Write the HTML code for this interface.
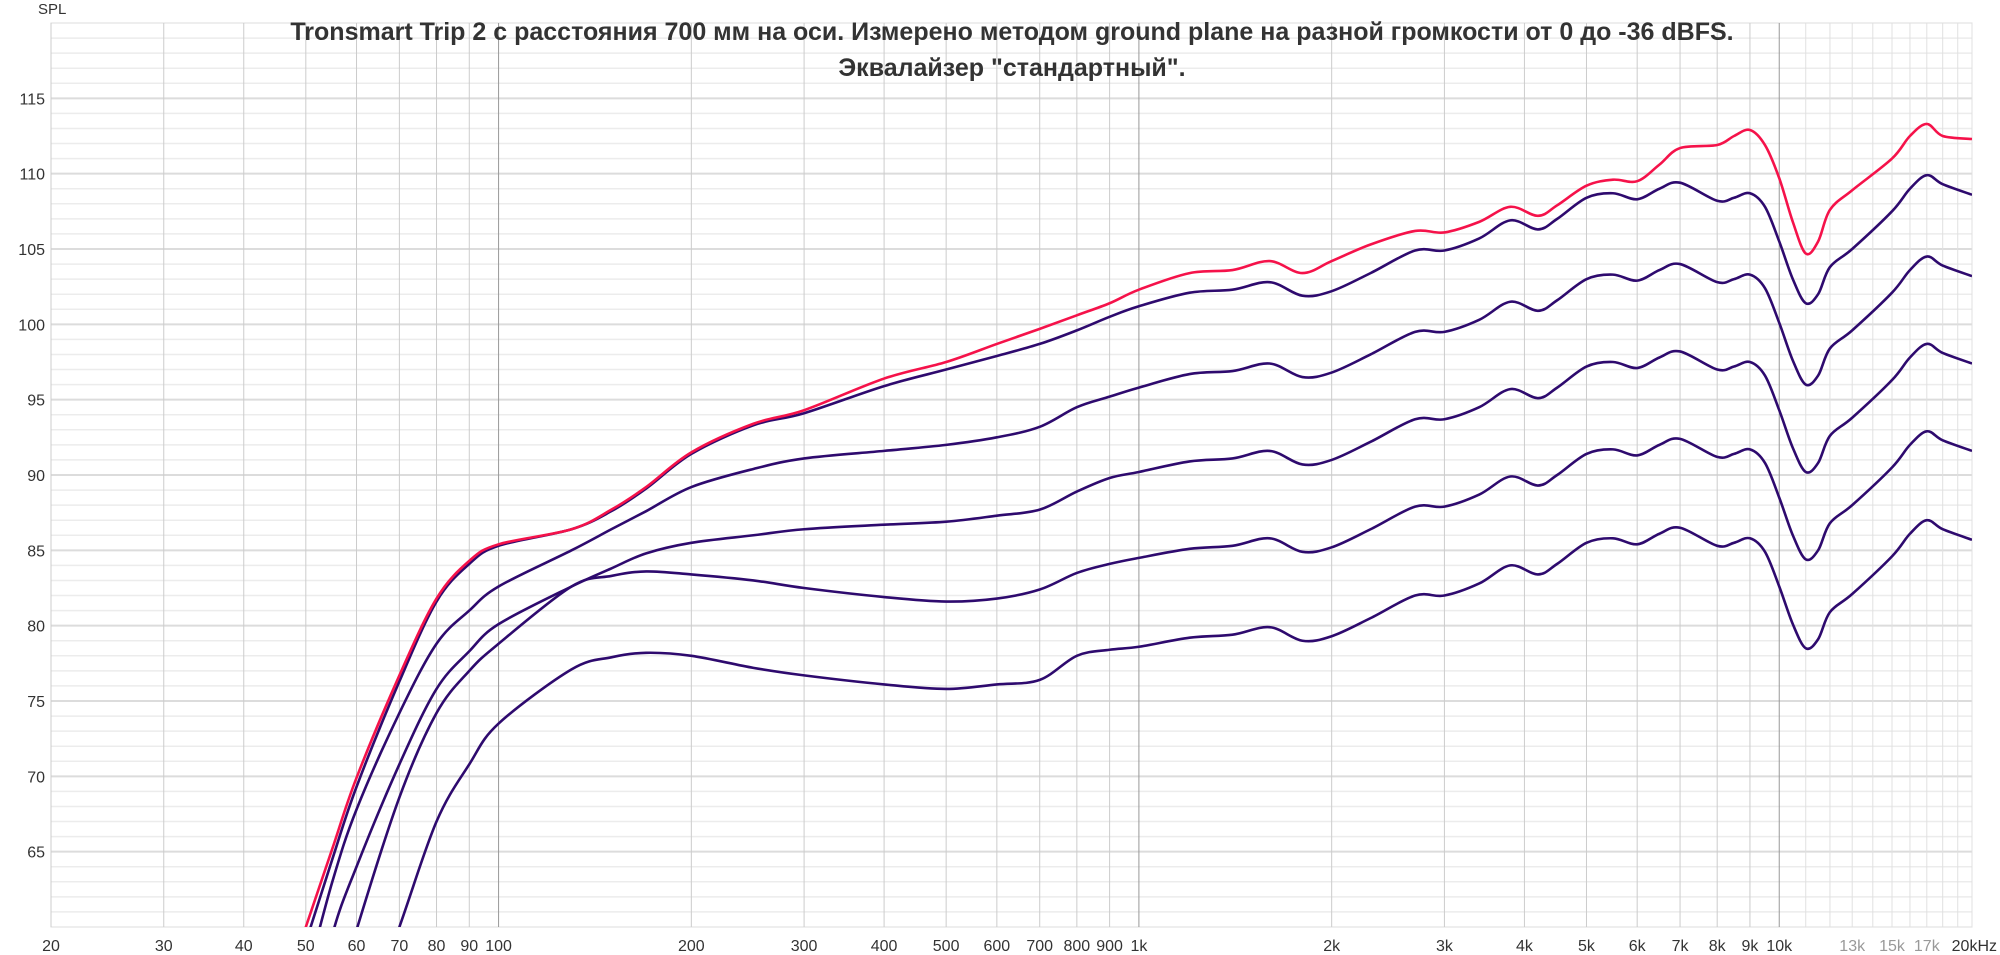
<!DOCTYPE html>
<html><head><meta charset="utf-8"><style>
html,body{margin:0;padding:0;background:#fff;overflow:hidden;width:2000px;height:955px;}
svg{display:block;font-family:"Liberation Sans","Noto Sans CJK SC",sans-serif;}
</style></head><body>
<svg id="chart" width="2000" height="955" viewBox="0 0 2000 955" xmlns="http://www.w3.org/2000/svg">
<g id="grid"></g>
<g id="curves"></g>
<g id="labels"></g>
<text x="38" y="14" font-size="15" fill="#333">SPL</text>
<text x="1012" y="40" font-size="25" font-weight="bold" fill="#333" text-anchor="middle">Tronsmart Trip 2 с расстояния 700 мм на оси. Измерено методом ground plane на разной громкости от 0 до -36 dBFS.</text>
<text x="1012" y="76" font-size="25" font-weight="bold" fill="#333" text-anchor="middle">Эквалайзер "стандартный".</text>
</svg>
<script>
const freqs=[45,50,55,60,70,80,90,100,130,150,170,200,250,300,400,500,600,700,800,900,1000,1200,1400,1600,1800,2000,2300,2700,3000,3400,3800,4200,4500,5000,5500,6000,6500,7000,8000,8500,9000,9500,10000,10500,11000,11500,12000,13000,15000,16000,17000,18000,20000];
const spl0=[54,60,65.2,69.9,76.7,81.8,84.3,85.4,86.4,87.7,89.2,91.5,93.4,94.3,96.4,97.5,98.7,99.7,100.6,101.4,102.3,103.4,103.6,104.2,103.4,104.2,105.3,106.2,106.1,106.8,107.8,107.2,107.9,109.2,109.6,109.5,110.6,111.7,111.9,112.5,112.9,111.9,109.7,106.8,104.7,105.5,107.6,108.9,111,112.5,113.3,112.5,112.3];
const spl6=[53,59,64.5,69.3,76.3,81.6,84.1,85.3,86.4,87.6,89.1,91.4,93.3,94.1,95.9,97,97.9,98.7,99.6,100.5,101.2,102.1,102.3,102.8,101.9,102.2,103.4,104.9,104.9,105.7,106.9,106.3,107,108.4,108.7,108.3,109,109.4,108.2,108.4,108.7,107.8,105.5,103,101.4,102,103.8,105,107.5,109,109.9,109.3,108.6];
const spl12=[50,56.5,63,67.8,74.2,78.8,81,82.6,85,86.4,87.6,89.2,90.4,91.1,91.6,92,92.5,93.2,94.5,95.2,95.8,96.7,96.9,97.4,96.5,96.8,98,99.5,99.5,100.3,101.5,100.9,101.6,103,103.3,102.9,103.6,104,102.8,103,103.3,102.4,100.1,97.6,96,96.6,98.4,99.6,102.1,103.6,104.5,103.9,103.2];
const spl18=[45,52,59.5,64,70.8,75.8,78.3,80.1,82.6,83.8,84.8,85.5,86,86.4,86.7,86.9,87.3,87.7,88.9,89.8,90.2,90.9,91.1,91.6,90.7,91,92.2,93.7,93.7,94.5,95.7,95.1,95.8,97.2,97.5,97.1,97.8,98.2,97,97.2,97.5,96.6,94.3,91.8,90.2,90.8,92.6,93.8,96.3,97.8,98.7,98.1,97.4];
const spl24=[40,47,54,59.8,68.6,74.2,77,78.8,82.6,83.3,83.6,83.4,83,82.5,81.9,81.6,81.8,82.4,83.5,84.1,84.5,85.1,85.3,85.8,84.9,85.2,86.4,87.9,87.9,88.7,89.9,89.3,90,91.4,91.7,91.3,92,92.4,91.2,91.4,91.7,90.8,88.5,86,84.4,85,86.8,88,90.5,92,92.9,92.3,91.6];
const spl36=[30,38,45,52,60,67,70.8,73.5,77.1,77.9,78.2,78,77.2,76.7,76.1,75.8,76.1,76.4,78,78.4,78.6,79.2,79.4,79.9,79,79.3,80.5,82,82,82.8,84,83.4,84.1,85.5,85.8,85.4,86.1,86.5,85.3,85.5,85.8,84.9,82.6,80.1,78.5,79.1,80.9,82.1,84.6,86.1,87,86.4,85.7];
const yTicks=[65,70,75,80,85,90,95,100,105,110,115];
const xTickVals=[20,30,40,50,60,70,80,90,100,200,300,400,500,600,700,800,900,1000,2000,3000,4000,5000,6000,7000,8000,9000,10000,13000,15000,17000,20000];
const xTickText=["20","30","40","50","60","70","80","90","100","200","300","400","500","600","700","800","900","1k","2k","3k","4k","5k","6k","7k","8k","9k","10k","13k","15k","17k","20kHz"];

const L=51,R=1972,T=23,B=927,Y0=60,Y1=120;
const X=f=>L+(Math.log10(f)-Math.log10(20))/3*(R-L);
const Y=v=>B-(v-Y0)/(Y1-Y0)*(B-T);
const NS="http://www.w3.org/2000/svg";
function mk(tag,attrs,parent){const e=document.createElementNS(NS,tag);for(const k in attrs)e.setAttribute(k,attrs[k]);parent.appendChild(e);return e;}
const grid=document.getElementById('grid'),labels=document.getElementById('labels'),curves=document.getElementById('curves');
mk('rect',{x:L,y:T,width:R-L,height:B-T,fill:'#fff',stroke:'#ddd'},grid);
for(let v=61;v<120;v++){
  const l=mk('line',{x1:L,x2:R,y1:Y(v),y2:Y(v),stroke:v%5==0?'#dcdcdc':'#ececec','stroke-width':v%5==0?2:1.5},grid);
  
  
}
const vgrid=[];
for(const d of [10,100,1000,10000])for(let m=1;m<10;m++){const f=d*m;if(f>=20&&f<=20000)vgrid.push(f);}
for(let f=11000;f<20000;f+=1000)vgrid.push(f);
vgrid.forEach(f=>{
  const dec=(f==100||f==1000||f==10000);
  const lt=f>10000;
  const l=mk('line',{x1:X(f),x2:X(f),y1:T,y2:B,stroke:dec?'#999':(lt?'#e0e0e0':'#ccc'),'stroke-width':1},grid);
  
  
});
yTicks.forEach(v=>{
  const t=mk('text',{x:45,y:Y(v)+6,'text-anchor':'end','font-size':16,fill:'#333'},labels);
  t.textContent=v;
  
  
});
xTickVals.forEach((f,i)=>{
  const grey=(f==13000||f==15000||f==17000);
  const t=mk('text',{x:X(f),y:951,'text-anchor':'middle','font-size':16,fill:grey?'#999':'#333'},labels);
  if(f==20000){t.setAttribute('x',1997);t.setAttribute('text-anchor','end');}
  t.textContent=xTickText[i];
  
  
});
const cp=mk('clipPath',{id:'clip'},mk('defs',{},document.getElementById('chart')));
mk('rect',{x:L,y:T,width:R-L,height:B-T},cp);
function path(vals){
  const p=freqs.map((f,i)=>[X(f),Y(vals[i])]);
  let d=`M${p[0][0]},${p[0][1]}`;
  for(let i=0;i<p.length-1;i++){
    const p0=p[i-1]||p[i],p1=p[i],p2=p[i+1],p3=p[i+2]||p2;
    const c1=[p1[0]+(p2[0]-p0[0])/6,p1[1]+(p2[1]-p0[1])/6];
    const c2=[p2[0]-(p3[0]-p1[0])/6,p2[1]-(p3[1]-p1[1])/6];
    d+=` C${c1[0]},${c1[1]} ${c2[0]},${c2[1]} ${p2[0]},${p2[1]}`;
  }
  return d;
}
const series=[['curve-minus-36dbfs',spl36,'#2e0a6e'],['curve-minus-24dbfs',spl24,'#2e0a6e'],['curve-minus-18dbfs',spl18,'#2e0a6e'],['curve-minus-12dbfs',spl12,'#2e0a6e'],['curve-minus-6dbfs',spl6,'#2e0a6e'],['curve-0dbfs',spl0,'#f5124a']];
series.forEach(s=>{
  const e=mk('path',{d:path(s[1]),fill:'none',stroke:s[2],'stroke-width':2.6,'clip-path':'url(#clip)'},curves);
  
  
});
</script>
</body></html>
